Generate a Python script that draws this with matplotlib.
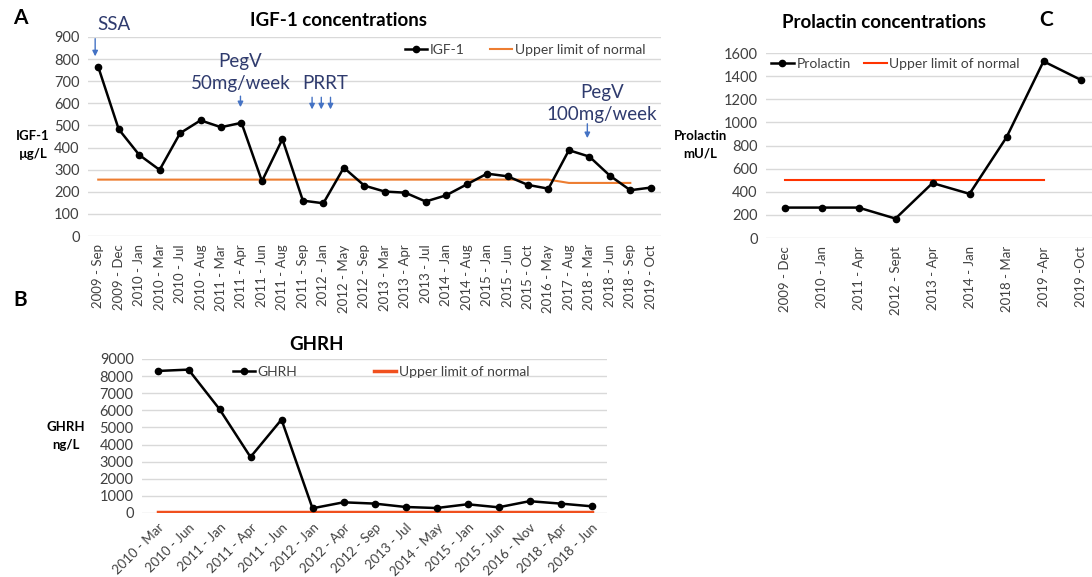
import matplotlib
matplotlib.use("Agg")
import matplotlib.pyplot as plt
import numpy as np

plt.rcParams['font.family'] = ['Lato', 'DejaVu Sans']

# ---------------- data ----------------
igf_dates = ["2009 - Sep", "2009 - Dec", "2010 - Jan", "2010 - Mar", "2010 - Jul", "2010 - Aug",
             "2011 - Mar", "2011 - Apr", "2011 - Jun", "2011 - Aug", "2011 - Sep", "2012 - Jan",
             "2012 - May", "2012 - Sep", "2013 - Mar", "2013 - Apr", "2013 - Jul", "2014 - Jan",
             "2014 - Aug", "2015 - Jan", "2015 - Jun", "2015 - Oct", "2016 - May", "2017 - Aug",
             "2018 - Mar", "2018 - Jun", "2018 - Sep", "2019 - Oct"]
igf_values = [765, 483, 367, 299, 465, 523, 492, 512, 248, 438, 160, 148,
              309, 228, 201, 196, 156, 184, 233, 282, 270, 231, 214, 388,
              359, 273, 207, 219]
igf_uln = [255] * 23 + [240, 240, 240, 240, np.nan]

ghrh_dates = ["2010 - Mar", "2010 - Jun", "2011 - Jan", "2011 - Apr", "2011 - Jun", "2012 - Jan",
              "2012 - Apr", "2012 - Sep", "2013 - Jul", "2014 - May", "2015 - Jan", "2015 - Jun",
              "2016 - Nov", "2018 - Apr", "2018 - Jun"]
ghrh_values = [8300, 8380, 6070, 3270, 5460, 275, 625, 550, 352, 290, 510, 333, 690, 550, 392]
ghrh_uln = [50] * 15

prl_dates = ["2009 - Dec", "2010 - Jan", "2011 - Apr", "2012 - Sept", "2013 - Apr",
             "2014 - Jan", "2018 - Mar", "2019 -Apr", "2019 -Oct"]
prl_values = [263, 263, 263, 168, 475, 382, 871, 1528, 1369]
prl_uln = [500] * 8 + [np.nan]

# ---------------- figure ----------------
W, H = 1092, 577
fig = plt.figure(figsize=(W / 100, H / 100), dpi=100)

def px_axes(left, top, right, bottom):
    return fig.add_axes([left / W, 1 - bottom / H, (right - left) / W, (bottom - top) / H])

grid_c = "#D9D9D9"
tick_c = "#404040"

def style(ax):
    for s in ax.spines.values():
        s.set_visible(False)
    ax.tick_params(length=0, colors=tick_c, labelsize=10.5)
    ax.tick_params(axis='y', pad=6)
    ax.yaxis.grid(True, color=grid_c, lw=1)
    ax.set_axisbelow(True)

leg_kw = dict(frameon=False, fontsize=10, handlelength=1.6, handletextpad=0.2, ncol=2,
              labelcolor=tick_c)

# ---------------- Panel A ----------------
axA = px_axes(88, 37, 661, 236)
style(axA)
xa = np.arange(len(igf_dates))
axA.plot(xa, igf_uln, color="#ED7D31", lw=1.5, label="Upper limit of normal")
axA.plot(xa, igf_values, color="black", lw=1.8, marker="o", ms=4.5, label="IGF-1")
axA.set_xlim(-0.5, len(igf_dates) - 0.5)
axA.set_ylim(0, 900)
axA.set_yticks(range(0, 901, 100))
axA.set_xticks(xa)
axA.set_xticklabels(igf_dates, rotation=90, fontsize=9.5)
axA.tick_params(axis='x', pad=6)
h, l = axA.get_legend_handles_labels()
axA.legend([h[1], h[0]], [l[1], l[0]], loc="upper right", bbox_to_anchor=(0.985, 1.0),
           columnspacing=1.8, borderaxespad=0.1, **leg_kw)
fig.text(338 / W, 1 - 20 / H, "IGF-1 concentrations", fontsize=13.5, fontweight="bold",
         ha="center", va="center")
fig.text(33 / W, 1 - 145 / H, "IGF-1\nµg/L", fontsize=9.5, fontweight="bold", ha="center",
         va="center", linespacing=1.6)

txt_c = "#2F3B6E"
arr_c = "#4472C4"

def arrow(ax, x, y0, y1):
    ax.annotate("", xy=(x, y1), xytext=(x, y0),
                arrowprops=dict(arrowstyle="-|>", color=arr_c, lw=1.0, mutation_scale=8),
                annotation_clip=False)

fs_ann = 13.5
axA.text(0.75, 955, "SSA", color=txt_c, fontsize=fs_ann, ha="center", va="center", clip_on=False)
arrow(axA, -0.15, 905, 800)
axA.text(6.95, 790, "PegV", color=txt_c, fontsize=fs_ann, ha="center", va="center")
axA.text(6.95, 690, "50mg/week", color=txt_c, fontsize=fs_ann, ha="center", va="center")
arrow(axA, 6.95, 645, 570)
axA.text(11.1, 690, "PRRT", color=txt_c, fontsize=fs_ann, ha="center", va="center")
for xx in (10.45, 10.9, 11.35):
    arrow(axA, xx, 640, 560)
axA.text(24.6, 650, "PegV", color=txt_c, fontsize=fs_ann, ha="center", va="center")
axA.text(24.6, 550, "100mg/week", color=txt_c, fontsize=fs_ann, ha="center", va="center")
arrow(axA, 23.9, 520, 430)

# ---------------- Panel B ----------------
axB = px_axes(142, 359, 607, 513)
style(axB)
xb = np.arange(len(ghrh_dates))
axB.plot(xb, ghrh_uln, color="#F0501E", lw=2.5, label="Upper limit of normal")
axB.plot(xb, ghrh_values, color="black", lw=1.8, marker="o", ms=4.5, label="GHRH")
axB.set_xlim(-0.5, len(ghrh_dates) - 0.5)
axB.set_ylim(0, 9000)
axB.set_yticks(range(0, 9001, 1000))
axB.set_xticks(xb)
axB.set_xticklabels(ghrh_dates, rotation=45, ha="right", rotation_mode="anchor", fontsize=9.5)
axB.tick_params(axis='x', pad=6)
h, l = axB.get_legend_handles_labels()
axB.legend([h[1], h[0]], [l[1], l[0]], loc="upper left", bbox_to_anchor=(0.18, 1.0),
           columnspacing=5.5, borderaxespad=0.1, **leg_kw)
fig.text(317 / W, 1 - 345 / H, "GHRH", fontsize=13.5, fontweight="bold",
         ha="center", va="center")
fig.text(66 / W, 1 - 436 / H, "GHRH\nng/L", fontsize=9.5, fontweight="bold", ha="center",
         va="center", linespacing=1.6)

# ---------------- Panel C ----------------
axC = px_axes(766, 53, 1092, 238)
style(axC)
xc = np.arange(len(prl_dates))
axC.plot(xc, prl_uln, color="#FF3300", lw=1.5, label="Upper limit of normal")
axC.plot(xc, prl_values, color="black", lw=1.8, marker="o", ms=4.5, label="Prolactin")
axC.set_xlim(-0.5, 8.31)
axC.set_ylim(0, 1600)
axC.set_yticks(range(0, 1601, 200))
axC.set_xticks(xc)
axC.set_xticklabels(prl_dates, rotation=90, fontsize=9.5)
axC.tick_params(axis='x', pad=6)
h, l = axC.get_legend_handles_labels()
axC.legend([h[1], h[0]], [l[1], l[0]], loc="upper left", bbox_to_anchor=(-0.005, 1.01),
           columnspacing=1.0, borderaxespad=0.1, **leg_kw)
fig.text(884 / W, 1 - 22 / H, "Prolactin concentrations", fontsize=13.5, fontweight="bold",
         ha="center", va="center")
fig.text(700 / W, 1 - 145 / H, "Prolactin\nmU/L", fontsize=9.5, fontweight="bold", ha="center",
         va="center", linespacing=1.6)

# ---------------- panel letters ----------------
fig.text(20 / W, 1 - 18 / H, "A", fontsize=15, fontweight="bold", ha="center", va="center")
fig.text(20 / W, 1 - 300 / H, "B", fontsize=15, fontweight="bold", ha="center", va="center")
fig.text(1046 / W, 1 - 20 / H, "C", fontsize=15, fontweight="bold", ha="center", va="center")

fig.savefig("out.png", dpi=100)
